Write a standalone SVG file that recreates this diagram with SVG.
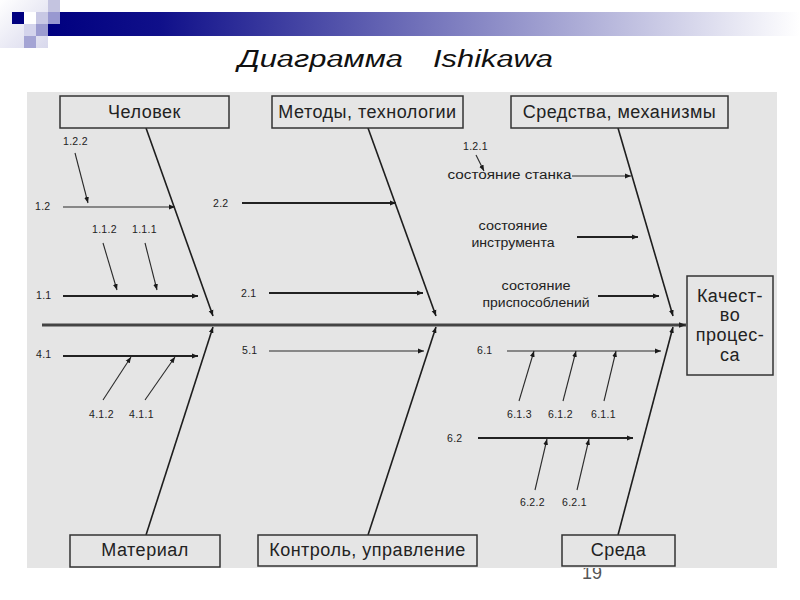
<svg xmlns="http://www.w3.org/2000/svg" width="800" height="600" viewBox="0 0 800 600">
<defs>
<linearGradient id="bar" x1="0" y1="0" x2="1" y2="0">
<stop offset="0" stop-color="#000080"/>
<stop offset="0.15" stop-color="#10108a"/>
<stop offset="1" stop-color="#ffffff"/>
</linearGradient>
<linearGradient id="corner" x1="0" y1="0" x2="1" y2="1">
<stop offset="0" stop-color="#ffffff"/>
<stop offset="1" stop-color="#d8d8ec"/>
</linearGradient>
<marker id="ah" viewBox="0 0 10 10" refX="10" refY="5" markerWidth="6" markerHeight="6" markerUnits="userSpaceOnUse" orient="auto">
<path d="M0,1 L10,5 L0,9 z" fill="#1a1a1a"/>
</marker>
<marker id="ahb" viewBox="0 0 10 10" refX="10" refY="5" markerWidth="8" markerHeight="7" markerUnits="userSpaceOnUse" orient="auto">
<path d="M0,1 L10,5 L0,9 z" fill="#222"/>
</marker>
</defs>
<style>
.box{fill:#e5e5e5;stroke:#333;stroke-width:1.5}
.bt{font-family:"Liberation Sans",Arial,sans-serif;font-size:18px;fill:#222;text-anchor:middle;letter-spacing:0.5px}
.num{font-family:"Liberation Sans",Arial,sans-serif;font-size:10.5px;fill:#222;letter-spacing:0.3px}
.st{font-family:"Liberation Sans",Arial,sans-serif;font-size:12px;fill:#222;text-anchor:middle}
.bone{stroke:#1e1e1e;stroke-width:1.6;fill:none}
.sub{stroke:#2a2a2a;stroke-width:1.1;fill:none}
.subb{stroke:#222;stroke-width:2;fill:none}
</style>
<rect width="800" height="600" fill="#ffffff"/>
<!-- decoration -->
<rect x="0" y="0" width="48" height="48" fill="url(#corner)"/>
<rect x="48" y="12" width="752" height="24" fill="url(#bar)"/>
<rect x="48" y="0" width="12" height="12" fill="#c4c4e0"/>
<rect x="12" y="12" width="12" height="12" fill="#000080"/>
<rect x="24" y="12" width="12" height="12" fill="#ffffff"/>
<rect x="36" y="12" width="12" height="12" fill="#c8c8e4"/>
<rect x="48" y="12" width="12" height="12" fill="#9898d0"/>
<rect x="24" y="24" width="12" height="12" fill="#d4d4ec"/>
<rect x="36" y="24" width="12" height="12" fill="#9c9cd0"/>
<rect x="24" y="36" width="12" height="12" fill="#a4a4d4"/>
<!-- page number (partly under panel) -->
<text x="592" y="579" font-family="Liberation Sans,Arial,sans-serif" font-size="18" fill="#555" text-anchor="middle">19</text>
<!-- title -->
<text font-family="Liberation Sans,Arial,sans-serif" font-size="23" font-style="italic" fill="#111" y="67"><tspan x="238" textLength="165" lengthAdjust="spacingAndGlyphs">Диаграмма</tspan><tspan x="433" textLength="120" lengthAdjust="spacingAndGlyphs">Ishikawa</tspan></text>
<!-- panel -->
<rect x="27" y="92" width="750" height="476" fill="#e5e5e5"/>

<g id="connectors">
<!-- spine -->
<line x1="42" y1="325" x2="686" y2="325" stroke="#444" stroke-width="3" marker-end="url(#ahb)"/>
<!-- main bones -->
<line class="bone" x1="146" y1="128" x2="213" y2="316" marker-end="url(#ah)"/>
<line class="bone" x1="368" y1="128" x2="436" y2="316" marker-end="url(#ah)"/>
<line class="bone" x1="618" y1="128" x2="673" y2="316" marker-end="url(#ah)"/>
<line class="bone" x1="146" y1="535" x2="213" y2="327" marker-end="url(#ah)"/>
<line class="bone" x1="368" y1="535" x2="436" y2="327" marker-end="url(#ah)"/>
<line class="bone" x1="618" y1="535" x2="673" y2="327" marker-end="url(#ah)"/>
<!-- Человек sub-causes -->
<line class="sub" x1="75" y1="153" x2="88" y2="203" marker-end="url(#ah)"/>
<line class="sub" x1="63" y1="207" x2="175" y2="207" marker-end="url(#ah)"/>
<line class="sub" x1="103" y1="243" x2="117" y2="290" marker-end="url(#ah)"/>
<line class="sub" x1="145" y1="243" x2="157" y2="290" marker-end="url(#ah)"/>
<line class="subb" x1="63" y1="296" x2="198" y2="296" marker-end="url(#ah)"/>
<!-- Методы -->
<line class="subb" x1="242" y1="203" x2="396" y2="203" marker-end="url(#ah)"/>
<line class="subb" x1="269" y1="293" x2="423" y2="293" marker-end="url(#ah)"/>
<!-- Средства -->
<line class="sub" x1="476" y1="155" x2="484" y2="171" marker-end="url(#ah)"/>
<line class="sub" x1="572" y1="176" x2="631" y2="176" marker-end="url(#ah)"/>
<line class="subb" x1="577" y1="237" x2="638" y2="237" marker-end="url(#ah)"/>
<line class="subb" x1="598" y1="296" x2="659" y2="296" marker-end="url(#ah)"/>
<!-- Материал -->
<line class="subb" x1="63" y1="356" x2="198" y2="356" marker-end="url(#ah)"/>
<line class="sub" x1="103" y1="400" x2="131" y2="357" marker-end="url(#ah)"/>
<line class="sub" x1="145" y1="400" x2="175" y2="357" marker-end="url(#ah)"/>
<!-- Контроль -->
<line class="sub" x1="269" y1="351" x2="424" y2="351" marker-end="url(#ah)"/>
<!-- Среда -->
<line class="sub" x1="507" y1="351" x2="661" y2="351" marker-end="url(#ah)"/>
<line class="sub" x1="519" y1="401" x2="534" y2="351" marker-end="url(#ah)"/>
<line class="sub" x1="563" y1="401" x2="576" y2="351" marker-end="url(#ah)"/>
<line class="sub" x1="604" y1="401" x2="616" y2="351" marker-end="url(#ah)"/>
<line class="subb" x1="478" y1="438" x2="633" y2="438" marker-end="url(#ah)"/>
<line class="sub" x1="535" y1="490" x2="547" y2="439" marker-end="url(#ah)"/>
<line class="sub" x1="577" y1="490" x2="589" y2="439" marker-end="url(#ah)"/>
</g>

<g id="labels">
<text class="num" x="63" y="145">1.2.2</text>
<text class="num" x="35" y="210">1.2</text>
<text class="num" x="92" y="233">1.1.2</text>
<text class="num" x="132" y="233">1.1.1</text>
<text class="num" x="36" y="299">1.1</text>
<text class="num" x="213" y="207">2.2</text>
<text class="num" x="241" y="297">2.1</text>
<text class="num" x="463" y="150">1.2.1</text>
<text class="st" x="509.5" y="179" textLength="124" lengthAdjust="spacingAndGlyphs">состояние станка</text>
<text class="st" x="513" y="230" textLength="69" lengthAdjust="spacingAndGlyphs">состояние</text>
<text class="st" x="513" y="247" textLength="83" lengthAdjust="spacingAndGlyphs">инструмента</text>
<text class="st" x="536" y="290" textLength="69" lengthAdjust="spacingAndGlyphs">состояние</text>
<text class="st" x="536" y="307" textLength="107" lengthAdjust="spacingAndGlyphs">приспособлений</text>
<text class="num" x="36" y="358">4.1</text>
<text class="num" x="89" y="418">4.1.2</text>
<text class="num" x="129" y="418">4.1.1</text>
<text class="num" x="242" y="354">5.1</text>
<text class="num" x="477" y="354">6.1</text>
<text class="num" x="507" y="418">6.1.3</text>
<text class="num" x="548" y="418">6.1.2</text>
<text class="num" x="591" y="418">6.1.1</text>
<text class="num" x="447" y="442">6.2</text>
<text class="num" x="520" y="506">6.2.2</text>
<text class="num" x="562" y="506">6.2.1</text>
</g>

<g id="node-chelovek">
<rect class="box" x="60" y="96" width="169" height="32"/>
<text class="bt" x="144.5" y="118">Человек</text>
</g>
<g id="node-metody">
<rect class="box" x="272" y="96" width="191" height="32"/>
<text class="bt" x="367.5" y="118">Методы, технологии</text>
</g>
<g id="node-sredstva">
<rect class="box" x="511" y="96" width="217" height="32"/>
<text class="bt" x="619.5" y="118">Средства, механизмы</text>
</g>
<g id="node-material">
<rect class="box" x="70" y="535" width="150" height="32"/>
<text class="bt" x="145" y="556">Материал</text>
</g>
<g id="node-kontrol">
<rect class="box" x="258" y="535" width="219" height="31"/>
<text class="bt" x="367.5" y="556">Контроль, управление</text>
</g>
<g id="node-sreda">
<rect class="box" x="562" y="535" width="113" height="31"/>
<text class="bt" x="618.5" y="556">Среда</text>
</g>
<g id="node-quality">
<rect class="box" x="687" y="276" width="86" height="99"/>
<text class="bt" x="730" y="302">Качест-</text>
<text class="bt" x="730" y="321">во</text>
<text class="bt" x="730" y="341">процес-</text>
<text class="bt" x="730" y="361">са</text>
</g>
</svg>
